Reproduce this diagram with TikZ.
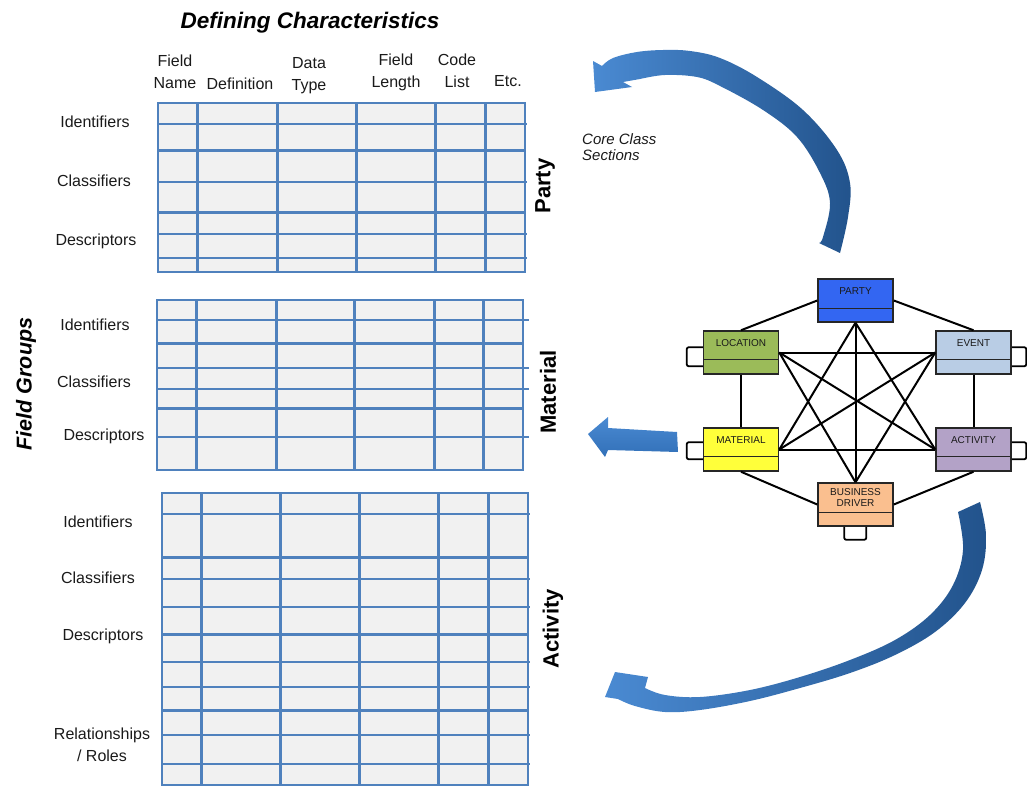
\documentclass[tikz,border=0pt]{standalone}
\usepackage{fontspec}
\setmainfont{Liberation Sans}
\usetikzlibrary{calc}

\definecolor{gridblue}{HTML}{4F81BD}
\definecolor{cellfill}{HTML}{F1F1F1}
\definecolor{partyblue}{HTML}{3366F2}
\definecolor{locgreen}{HTML}{9BBB59}
\definecolor{eventblue}{HTML}{B9CDE5}
\definecolor{matyellow}{HTML}{FFFF3A}
\definecolor{actpurple}{HTML}{B3A2C7}
\definecolor{bizpeach}{HTML}{FABF8F}
\definecolor{arrowlight}{HTML}{4A8AD2}
\definecolor{arrowdark}{HTML}{22538C}
\definecolor{arrowmid}{HTML}{3270B8}
\definecolor{inktext}{HTML}{1A1A1A}

\tikzset{
  gridthin/.style={draw=gridblue, line width=1.5pt},
  gridbold/.style={draw=gridblue, line width=3pt},
  hdr/.style={font=\fontsize{16}{22}\selectfont, align=center, inner sep=0pt, anchor=north, text=inktext},
  grp/.style={font=\fontsize{16}{22}\selectfont, align=center, inner sep=0pt, anchor=base, text=inktext},
  side/.style={font=\fontsize{22}{24}\selectfont\bfseries, rotate=90, inner sep=0pt, text=black},
  cls/.style={rectangle, draw=black!85, line width=1.5pt, minimum width=75pt, minimum height=43pt, inner sep=0pt},
  clstext/.style={font=\fontsize{10}{11}\selectfont, align=center, inner sep=0pt, text=inktext},
  clsline/.style={draw=black!85, line width=1.5pt},
  link/.style={draw=black, line width=2pt},
  tab/.style={draw=black, line width=1.8pt, rounded corners=2pt},
  bigarrow/.style={draw=none},
}

\begin{document}
\begin{tikzpicture}[x=1pt, y=-1pt]
\useasboundingbox (0,0) rectangle (1027,787);

% ---- title and column headers ----
\node[font=\fontsize{22.5}{24}\selectfont\bfseries\itshape, anchor=base, inner sep=0pt] (title) at (310,28) {Defining Characteristics};
\node[hdr] (hname) at (175,54.4) {Field\\Name};
\node[grp] (hdef) at (240,89) {Definition};
\node[hdr] (htype) at (309,57) {Data\\Type};
\node[hdr] (hlen) at (396,54) {Field\\Length};
\node[hdr] (hcode) at (457,54) {Code\\List};
\node[grp] (hetc) at (508,86) {Etc.};

\node[font=\fontsize{21.5}{24}\selectfont\bfseries\itshape, rotate=90, inner sep=0pt] (groups) at (26,384) {Field Groups};

% ---- Party table ----
\fill[cellfill] (158,103) rectangle (525,272);
\foreach \y in {124,182,234,258} \draw[gridthin] (158,\y) -- (527,\y);
\foreach \y in {150,212} \draw[gridbold] (157,\y) -- (525,\y);
\foreach \x in {197,277,356,435,485} \draw[gridbold] (\x,103) -- (\x,272);
\draw[gridthin] (158,103) rectangle (525,272);
\node[grp] (pid) at (95,127) {Identifiers};
\node[grp] (pcl) at (94,186) {Classifiers};
\node[grp] (pde) at (96,245) {Descriptors};
\node[side] (party label) at (545,186) {Party};

% ---- Material table ----
\fill[cellfill] (157,300) rectangle (523,470);
\foreach \y in {320,368,389,437} \draw[gridthin] (158,\y) -- (529,\y);
\foreach \y in {343,408} \draw[gridbold] (156,\y) -- (523,\y);
\foreach \x in {196,276,354,434,483} \draw[gridbold] (\x,300) -- (\x,470);
\draw[gridthin] (157,300) rectangle (523,470);
\node[grp] (mid) at (95,330) {Identifiers};
\node[grp] (mcl) at (94,387) {Classifiers};
\node[grp] (mde) at (104,440) {Descriptors};
\node[side] (material label) at (548,392) {Material};

% ---- Activity table ----
\fill[cellfill] (162,493) rectangle (528,785);
\foreach \y in {514,579,607,662,687,735,764} \draw[gridthin] (161,\y) -- (530,\y);
\foreach \y in {557,634,710} \draw[gridbold] (162,\y) -- (528,\y);
\foreach \x in {201,280,359,438,488} \draw[gridbold] (\x,493) -- (\x,785);
\draw[gridthin] (162,493) rectangle (528,785);
\node[grp] (aid) at (98,527) {Identifiers};
\node[grp] (acl) at (98,583) {Classifiers};
\node[grp] (ade) at (103,640) {Descriptors};
\node[hdr] (arel) at (102,727.3) {Relationships\\/ Roles};
\node[side] (activity label) at (553,629) {Activity};

\node[font=\fontsize{15}{16}\selectfont\itshape, align=left, anchor=north west, inner sep=0pt, text=inktext] (core) at (582,133) {Core Class\\Sections};

% ---- curved and straight arrows ----
\path[bigarrow, left color=arrowlight, right color=arrowdark]
  plot[smooth, tension=0.6] coordinates {(840,253) (848,217) (850,183) (837,150) (803,110) (757,77) (720,58) (690,51) (663,50) (637,52) (613,58) (602,66)}
  -- (593,61) -- (595,92) -- (632,87) -- (623,82)
  -- plot[smooth, tension=0.6] coordinates {(640,79) (665,75) (697,77) (720,86) (763,110) (797,137) (820,173) (830,203) (823,237) (819,243)}
  -- cycle;

\path[bigarrow, top color=arrowlight, bottom color=arrowmid]
  (588,434) -- (608,417) -- (608,428) -- (677,432) -- (678,452) -- (608,450) -- (605,457) -- cycle;

\path[bigarrow, left color=arrowlight, right color=arrowdark]
  plot[smooth, tension=0.6] coordinates {(958,512) (963,550) (953,585) (930,615) (895,640) (850,660) (800,677) (750,690) (700,697) (665,695) (645,688)}
  -- (648,677) -- (615,672) -- (605,697)
  -- plot[smooth, tension=0.6] coordinates {(618,699) (635,706) (665,712) (700,710) (750,701) (800,688) (850,673) (895,655) (935,632) (965,603) (982,570) (986,535) (980,502)}
  -- cycle;

% ---- core class model ----
\node[cls, fill=partyblue] (party) at (855.5,300.5) {};
\node[cls, fill=locgreen] (loc) at (741,352.5) {};
\node[cls, fill=eventblue] (evt) at (973.5,352.5) {};
\node[cls, fill=matyellow] (mat) at (741,449.5) {};
\node[cls, fill=actpurple] (act) at (973.5,449.5) {};
\node[cls, fill=bizpeach] (biz) at (855.5,504.5) {};

\foreach \n/\d in {party/30, loc/29, evt/29, mat/29, act/29, biz/30}
  \draw[clsline] ([yshift=-\d pt]\n.north west) -- ([yshift=-\d pt]\n.north east);

\node[clstext] (partyT) at ([yshift=-13pt]party.north) {PARTY};
\node[clstext] (locT) at ([yshift=-13pt]loc.north) {LOCATION};
\node[clstext] (evtT) at ([yshift=-13pt]evt.north) {EVENT};
\node[clstext] (matT) at ([yshift=-13pt]mat.north) {MATERIAL};
\node[clstext] (actT) at ([yshift=-13pt]act.north) {ACTIVITY};
\node[clstext] (bizT) at ([yshift=-15.5pt]biz.north) {BUSINESS\\DRIVER};

% outer ring
\draw[link] (party.west) -- (loc.north);
\draw[link] (party.east) -- (evt.north);
\draw[link] (loc.south) -- (mat.north);
\draw[link] (evt.south) -- (act.north);
\draw[link] (mat.south) -- (biz.west);
\draw[link] (act.south) -- (biz.east);
% horizontals and star
\draw[link] (loc.east) -- (evt.west);
\draw[link] (mat.east) -- (act.west);
\draw[link] (party.south) -- (mat.east);
\draw[link] (party.south) -- (act.west);
\draw[link] (party.south) -- (biz.north);
\draw[link] (biz.north) -- (loc.east);
\draw[link] (biz.north) -- (evt.west);
\draw[link] (loc.east) -- (act.west);
\draw[link] (evt.west) -- (mat.east);

% self-reference tabs
\draw[tab] ([yshift=-17pt]loc.north west) -- ++(-16,0) -- ++(0,19) -- ++(16,0);
\draw[tab] ([yshift=-15pt]mat.north west) -- ++(-16,0) -- ++(0,17) -- ++(16,0);
\draw[tab] ([yshift=-17pt]evt.north east) -- ++(14.5,0) -- ++(0,19) -- ++(-14.5,0);
\draw[tab] ([yshift=-15pt]act.north east) -- ++(14.5,0) -- ++(0,17) -- ++(-14.5,0);
\draw[tab] ([xshift=27pt]biz.south west) -- ++(0,13) -- ++(22,0) -- ++(0,-13);

\end{tikzpicture}
\end{document}
